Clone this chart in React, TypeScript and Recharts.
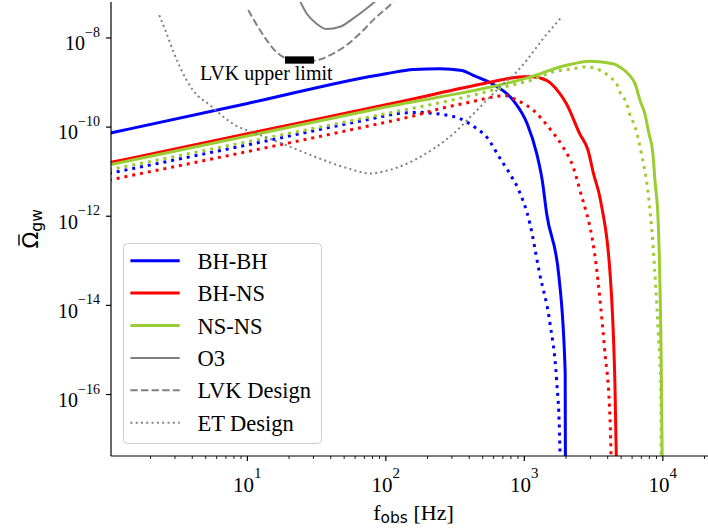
import React from 'react';
import { LineChart, Line, XAxis, YAxis, Legend, ReferenceDot } from 'recharts';

type Pt = [number, number];

// [f_obs in Hz, Omega_gw]
const BHBH_SOLID: Pt[] = [
  [1, 7.24e-11], [10, 3.39e-10], [100, 1.58e-9], [158, 1.95e-9], [245, 2.04e-9],
  [355, 1.86e-9], [427, 1.45e-9], [589, 9.3e-10], [832, 3.98e-10], [1047, 1.2e-10],
  [1230, 2.51e-11], [1346, 6.46e-12], [1449, 1.15e-12], [1778, 4.37e-14],
  [1972, 3.16e-16], [1986, 1e-19],
];
const BHNS_SOLID: Pt[] = [
  [1, 1.58e-11], [10, 7.08e-11], [100, 3.16e-10], [479, 9.12e-10], [708, 1.17e-9],
  [977, 1.35e-9], [1122, 1.35e-9], [1445, 1.12e-9], [1778, 6.03e-10], [2018, 3.31e-10],
  [2512, 7.08e-11], [2884, 3.02e-11], [3162, 8.9e-12], [3548, 2.29e-12],
  [4266, 1.55e-14], [4508, 1.82e-16], [4721, 1e-19],
];
const NSNS_SOLID: Pt[] = [
  [1, 1.41e-11], [10, 6.31e-11], [100, 2.82e-10], [1096, 1.32e-9], [2018, 2.45e-9],
  [3020, 3.02e-9], [4365, 2.63e-9], [4898, 2.24e-9], [5754, 1.45e-9], [6310, 9.33e-10],
  [6839, 3.98e-10], [7413, 2.0e-10], [7943, 7.1e-11], [8453, 2.8e-11], [8770, 6.46e-12],
  [9268, 6.92e-13], [9772, 2.09e-16], [10000, 1e-19],
];
const BHBH_DOTTED: Pt[] = [
  [1, 9.12e-12], [10, 3.98e-11], [85.9, 1.62e-10], [126, 2.04e-10], [178, 2.14e-10],
  [219, 2.04e-10], [282, 1.82e-10], [343, 1.55e-10], [437, 1.0e-10], [537, 5.89e-11],
  [661, 2.09e-11], [787, 8.91e-12], [904, 4.07e-12], [1096, 6.92e-13], [1288, 5.25e-14],
  [1531, 3.98e-15], [1710, 2.09e-16], [1795, 1.35e-17], [1854, 1e-19],
];
const BHNS_DOTTED: Pt[] = [
  [1, 6.46e-12], [10, 2.82e-11], [70.8, 1.02e-10], [158, 1.78e-10], [259, 2.69e-10],
  [405, 3.63e-10], [661, 5.01e-10], [708, 5.13e-10], [891, 3.98e-10], [1159, 2.4e-10],
  [1531, 9.12e-11], [1905, 3.55e-11], [2254, 1.26e-11], [2512, 3.98e-12],
  [3311, 7.41e-14], [3802, 1.0e-15], [4150, 3.16e-17], [4335, 1e-19],
];
const NSNS_DOTTED: Pt[] = [
  [1, 1.1e-11], [10, 4.68e-11], [85.9, 1.82e-10], [405, 5.01e-10], [832, 8.91e-10],
  [1040, 1.05e-9], [1622, 1.74e-9], [2254, 2.04e-9], [2754, 2.24e-9], [3715, 1.74e-9],
  [4150, 1.32e-9], [4645, 9.33e-10], [4898, 6.17e-10], [5495, 3.31e-10], [5754, 2.0e-10],
  [6310, 1.0e-10], [7031, 2.4e-11], [7852, 3.16e-12], [8511, 2.04e-13], [9268, 2.51e-15],
  [9638, 2.09e-16], [9772, 1e-19],
];
const O3_CURVE: Pt[] = [
  [21.9, 1.26e-7], [26.8, 3.55e-8], [31.6, 2.09e-8], [37.4, 1.58e-8], [46.7, 1.78e-8],
  [58.2, 2.75e-8], [72.6, 4.57e-8], [93.3, 8.9e-8],
];
const LVK_DESIGN: Pt[] = [
  [10.15, 4.25e-8], [11.7, 1.95e-8], [13.8, 8.91e-9], [15.8, 5.25e-9], [18.2, 3.72e-9],
  [23.2, 3.02e-9], [29.9, 3.09e-9], [41.7, 4.47e-9], [52.1, 6.92e-9], [65.0, 1.26e-8],
  [83.4, 2.75e-8], [110, 5.89e-8], [123, 8.32e-8],
];
const ET_DESIGN: Pt[] = [
  [2.31, 3.24e-8], [2.61, 1.26e-8], [2.9, 5.25e-9], [3.26, 2.24e-9], [4.06, 6.61e-10],
  [5.37, 3.09e-10], [7.91, 1.17e-10], [11.7, 7.08e-11], [18.2, 4.17e-11], [31.6, 2.09e-11],
  [55.1, 1.15e-11], [76.7, 9.12e-12], [97.7, 1.02e-11], [149, 1.62e-11], [220, 3.24e-11],
  [307, 7.08e-11], [405, 1.66e-10], [535, 3.98e-10], [667, 7.94e-10], [879, 1.72e-9],
  [1040, 3.16e-9], [1371, 9.77e-9], [1862, 2.95e-8],
];
const LVK_LIMIT: Pt[] = [[18.7, 3.2e-9], [30.3, 3.2e-9]];

const X_DECADES = [1, 10, 100, 1000, 10000];
const X_MINOR = [2, 3, 4, 5, 6, 7, 8, 9];
const Y_TICKS = [1e-16, 1e-14, 1e-12, 1e-10, 1e-8];
const X_DOMAIN: [number, number] = [1.036, 24210];
const Y_DOMAIN: [number, number] = [4.17e-18, 6.41e-8];

const SERIF = '"Liberation Serif", "Times New Roman", serif';
const SANS = '"DejaVu Sans", sans-serif';
const BLUE = '#0000ff';
const RED = '#ff0000';
const GREEN = '#9acd32';
const GRAY = '#808080';

const serif = (size: number) => ({ fontFamily: SERIF, fontSize: size });
const sans = (size: number) => ({ fontFamily: SANS, fontSize: size });

const rows = (pts: Pt[]) => pts.map(([f, v]) => ({ f, v }));

const xTicks = X_DECADES.flatMap((d) => [d, ...X_MINOR.map((m) => m * d)])
  .filter((t) => t >= X_DOMAIN[0] && t <= X_DOMAIN[1])
  .sort((a, b) => a - b);

const SERIES = [
  { key: 'bhbh', data: BHBH_SOLID, color: BLUE, width: 3, dash: undefined },
  { key: 'bhns', data: BHNS_SOLID, color: RED, width: 3, dash: undefined },
  { key: 'nsns', data: NSNS_SOLID, color: GREEN, width: 3, dash: undefined },
  { key: 'bhbh-d', data: BHBH_DOTTED, color: BLUE, width: 3, dash: '3 4.95' },
  { key: 'bhns-d', data: BHNS_DOTTED, color: RED, width: 3, dash: '3 4.95' },
  { key: 'nsns-d', data: NSNS_DOTTED, color: GREEN, width: 3, dash: '3 4.95' },
  { key: 'o3', data: O3_CURVE, color: GRAY, width: 2, dash: undefined },
  { key: 'lvk', data: LVK_DESIGN, color: GRAY, width: 2, dash: '7.4 3.2' },
  { key: 'et', data: ET_DESIGN, color: GRAY, width: 2, dash: '2 3.3' },
];

const LEGEND_ITEMS = [
  { label: 'BH-BH', color: BLUE, width: 3, dash: undefined },
  { label: 'BH-NS', color: RED, width: 3, dash: undefined },
  { label: 'NS-NS', color: GREEN, width: 3, dash: undefined },
  { label: 'O3', color: GRAY, width: 2, dash: undefined },
  { label: 'LVK Design', color: GRAY, width: 2, dash: '7.4 3.2' },
  { label: 'ET Design', color: GRAY, width: 2, dash: '2 3.3' },
];

const XTick = (props: any) => {
  const { x, y, payload } = props;
  const e = Math.log10(payload.value);
  const major = Math.abs(e - Math.round(e)) < 1e-9;
  return (
    <g>
      <line x1={x} x2={x} y1={y} y2={y + (major ? 5 : 3)} stroke="#000" strokeWidth={major ? 1.2 : 0.9} />
      {major && (
        <text x={x} y={y + 36} textAnchor="middle" fill="#000" style={serif(21)}>
          <tspan>10</tspan>
          <tspan dy={-14} style={serif(15)}>{Math.round(e)}</tspan>
        </text>
      )}
    </g>
  );
};

const YTick = (props: any) => {
  const { x, y, payload } = props;
  const e = Math.round(Math.log10(payload.value));
  return (
    <g>
      <line x1={x} x2={x - 5} y1={y} y2={y} stroke="#000" strokeWidth={1.2} />
      <text x={x - 11} y={y + 12.3} textAnchor="end" fill="#000" style={serif(20)}>
        <tspan>10</tspan>
        <tspan dy={-13.3} style={serif(14)}>{'\u2212' + Math.abs(e)}</tspan>
      </text>
    </g>
  );
};

const XTitle = (props: any) => {
  const { x, y, width } = props.viewBox;
  return (
    <text x={x + width / 2} y={y + 64} textAnchor="middle" fill="#000" style={{ whiteSpace: 'pre' }}>
      <tspan style={serif(22)}>f</tspan>
      <tspan style={sans(15.5)} dy={3}>obs</tspan>
      <tspan style={serif(22)} dy={-3}> [Hz]</tspan>
    </text>
  );
};

// Omega with a bar, subscript gw, rotated like a matplotlib ylabel
const YTitle = (props: any) => {
  const { x, y, height } = props.viewBox;
  const cx = x + 38;
  const cy = y + height / 2;
  const start = cx - 19.5;
  return (
    <g transform={`rotate(-90 ${cx} ${cy})`}>
      <text x={start} y={cy} fill="#000">
        <tspan style={sans(22)}>{'\u03A9'}</tspan>
        <tspan style={sans(15.5)} dy={4}>gw</tspan>
      </text>
      <line x1={start + 3} x2={start + 14} y1={cy - 19} y2={cy - 19} stroke="#000" strokeWidth={1.4} />
    </g>
  );
};

const LegendBox = () => (
  <svg width={200} height={202} style={{ display: 'block' }}>
    <rect x={0.5} y={0.5} width={198} height={200} rx={4} fill="#ffffff" fillOpacity={0.8} stroke="#cccccc" strokeWidth={1} />
    {LEGEND_ITEMS.map((item, i) => {
      const cy = 17.7 + i * 32.4;
      return (
        <g key={item.label}>
          <line x1={7.4} x2={56.7} y1={cy} y2={cy} stroke={item.color} strokeWidth={item.width} strokeDasharray={item.dash} />
          <text x={74.4} y={cy + 8} fill="#000" style={serif(22.5)}>{item.label}</text>
        </g>
      );
    })}
  </svg>
);

const Annotation = (props: any) => (
  <text x={props.cx} y={props.cy} textAnchor="middle" fill="#000" style={serif(20)}>
    LVK upper limit
  </text>
);

export default function App() {
  return (
    <div style={{ position: 'absolute', left: 0, top: 0, width: 708, height: 531, overflow: 'hidden', background: '#fff' }}>
      <LineChart width={716} height={531} margin={{ top: 2, right: 0, bottom: 0, left: 0 }}>
        <XAxis
          dataKey="f"
          type="number"
          scale="log"
          domain={X_DOMAIN}
          allowDataOverflow
          ticks={xTicks}
          interval={0}
          tick={<XTick />}
          tickLine={false}
          tickSize={0}
          tickMargin={0}
          height={75}
          axisLine={{ stroke: '#000', strokeWidth: 1.2 }}
          label={<XTitle />}
        />
        <XAxis
          xAxisId="top"
          orientation="top"
          type="number"
          scale="log"
          domain={X_DOMAIN}
          allowDataOverflow
          height={0}
          tick={false}
          tickLine={false}
          axisLine={{ stroke: '#000', strokeWidth: 1.2 }}
        />
        <YAxis
          type="number"
          scale="log"
          domain={Y_DOMAIN}
          allowDataOverflow
          ticks={Y_TICKS}
          interval={0}
          tick={<YTick />}
          tickLine={false}
          tickSize={0}
          tickMargin={0}
          width={111}
          axisLine={{ stroke: '#000', strokeWidth: 1.2 }}
          label={<YTitle />}
        />
        {SERIES.map((s) => (
          <Line
            key={s.key}
            data={rows(s.data)}
            dataKey="v"
            type="monotone"
            stroke={s.color}
            strokeWidth={s.width}
            strokeDasharray={s.dash}
            dot={false}
            activeDot={false}
            isAnimationActive={false}
            legendType="none"
          />
        ))}
        <Line
          data={rows(LVK_LIMIT)}
          dataKey="v"
          type="linear"
          stroke="#000"
          strokeWidth={7.3}
          dot={false}
          activeDot={false}
          isAnimationActive={false}
          legendType="none"
        />
        <ReferenceDot x={13.7} y={1.16e-9} r={0} shape={<Annotation />} />
        <Legend
          layout="vertical"
          align="center"
          verticalAlign="middle"
          content={<LegendBox />}
          wrapperStyle={{ left: 123, top: 243, width: 200, height: 202 }}
        />
      </LineChart>
    </div>
  );
}
